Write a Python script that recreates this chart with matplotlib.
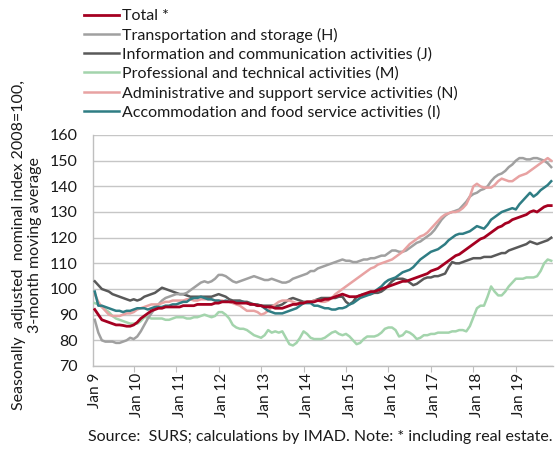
import matplotlib
matplotlib.use("Agg")
import matplotlib.pyplot as plt
import numpy as np

plt.rcParams['font.family'] = ['Lato', 'DejaVu Sans']

years = list(range(2009, 2020))
tick_labels = ["Jan " + str(y % 100) for y in years]

total = [
    92, 90, 88, 87.5, 87, 86.5, 86, 86, 85.8, 85.5, 85.5, 86,
    87, 88.5, 89.5, 90.5, 91.5, 92, 92.5, 92.5, 93, 93, 93, 93,
    93, 93.5, 93.5, 93.5, 93.5, 94, 94, 94, 94, 94, 94.5, 94.5,
    95, 95, 95, 95, 94.5, 94.5, 94.5, 94.5, 94, 94, 93.5, 93.5,
    93, 93, 93, 92.5, 92.5, 92.5, 93, 93.5, 94, 94, 94.5, 94.5,
    95, 95, 95, 95.5, 95.5, 96, 96, 96.5, 97, 97.5, 98, 97.5,
    97, 97, 97, 97.5, 98, 98.5, 99, 99, 99.5, 100, 100.5, 101,
    101.5, 102, 102.5, 103, 103, 103.5, 104, 104.5, 105, 105.5, 106, 107,
    107.5, 108, 109, 110, 111, 112, 113, 113.5, 114.5, 115.5, 116.5, 117.5,
    118.5, 119.5, 120, 121, 122, 123, 124, 124.5, 125.5, 126, 127, 127.5,
    128, 128.5, 129, 130, 130.5, 130, 131, 132, 132.5, 132.5,
]

transport = [
    88, 83, 80, 79.5, 79.5, 79.5, 79, 79, 79.5, 80, 81, 80.5,
    81.5, 83.5, 86, 88.5, 90.5, 92.5, 94, 95.5, 96.5, 97, 97.5, 98,
    98, 98, 98.5, 99.5, 100.5, 101.5, 102.5, 103, 102.5, 103, 104, 105.5,
    105.5, 105, 104, 103, 102.5, 103, 103.5, 104, 104.5, 105, 104.5, 104,
    103.5, 103.5, 104, 103.5, 103, 102.5, 102.5, 103, 104, 104.5, 105, 105.5,
    106, 107, 107, 108, 108.5, 109, 109.5, 110, 110.5, 111, 111.5, 111,
    111, 110.5, 110.5, 111, 111.5, 111.5, 112, 112, 112.5, 113, 113, 114,
    115, 115, 114.5, 114.5, 115, 116, 117, 118, 118.5, 119.5, 120.5, 121.5,
    123, 125, 127, 128.5, 129.5, 130, 130.5, 131, 132.5, 134, 136, 137,
    137.5, 138.5, 139, 140, 142, 143.5, 144.5, 145, 146, 147.5, 148.5, 150,
    151, 151, 150.5, 150.5, 151, 151, 150.5, 150, 149, 147.5,
]

info = [
    103, 101.5, 100, 99.5, 99, 98, 97.5, 97, 96.5, 96, 95.5, 96,
    95.5, 96, 97, 97.5, 98, 98.5, 99.5, 100.5, 100, 99.5, 99, 98.5,
    98, 98, 97.5, 97, 97, 97, 97, 97, 97, 97, 97.5, 98,
    97.5, 97, 96, 95.5, 95.5, 95.5, 95, 95, 94.5, 94, 94, 93.5,
    93.5, 93.5, 93.5, 93.5, 93.5, 94, 95, 96, 96.5, 96, 95.5, 95,
    95, 95, 95.5, 96, 96.5, 96.5, 96.5, 96.5, 96.5, 97, 97, 95,
    94, 95, 97, 97.5, 98, 98, 98, 98.5, 98.5, 99, 100, 101.5,
    103, 104, 104, 104, 103.5, 102.5, 101.5, 102, 103, 104, 104.5, 104.5,
    105, 105, 105.5, 106, 108.5, 110.5, 110, 110, 110.5, 111, 111.5, 112,
    112, 112, 112.5, 112.5, 112.5, 113, 113.5, 114, 114, 115, 115.5, 116,
    116.5, 117, 117.5, 118.5, 118, 117.5, 118, 118.5, 119, 120,
]

prof = [
    94.5, 94, 93, 92, 91, 89.5, 88.5, 88, 87.5, 87, 86.5, 86.5,
    86.5, 87.5, 89, 89, 88.5, 88.5, 88.5, 88.5, 88, 88, 88.5, 89,
    89, 89, 88.5, 88.5, 89, 89, 89.5, 90, 89.5, 89, 89.5, 91,
    91, 90, 88.5, 86, 85, 84.5, 84.5, 84, 83, 82, 81.5, 81,
    82, 84, 83, 83.5, 83, 83.5, 81, 78.5, 78, 79, 81, 83.5,
    82.5, 81, 80.5, 80.5, 80.5, 81, 82, 83, 83.5, 82.5, 82, 82.5,
    81.5, 80, 78.5, 79, 80.5, 81.5, 81.5, 81.5, 82, 83, 84.5, 85,
    85, 84, 81.5, 82, 83.5, 83, 82, 80.5, 81, 82, 82, 82.5,
    82.5, 83, 83, 83, 83, 83.5, 83.5, 84, 84, 83.5, 85.5, 89,
    92.5, 93.5, 93.5, 97, 101, 99, 97.5, 97.5, 99, 101, 102.5, 104,
    104, 104, 104.5, 104.5, 104.5, 105, 107, 110, 111.5, 111,
]

admin = [
    98, 95, 93, 91.5, 90, 89.5, 89.5, 89.5, 90, 90.5, 90.5, 91,
    92, 92.5, 93, 93.5, 94, 94, 94, 94.5, 95, 95, 95.5, 95.5,
    95.5, 95.5, 96, 96, 95.5, 95.5, 96, 96, 96, 96, 95.5, 95.5,
    95.5, 95, 95, 94.5, 94, 93.5, 92.5, 91.5, 91.5, 91.5, 91, 90,
    90.5, 91.5, 93, 94, 95, 95.5, 95.5, 95.5, 95, 94.5, 94.5, 94.5,
    95, 95, 95.5, 95.5, 95, 95, 95.5, 96.5, 98, 99, 100, 101,
    102, 103, 104, 105, 106, 107, 108, 108.5, 109.5, 110, 110.5, 111,
    111.5, 112.5, 113.5, 114.5, 116, 117.5, 118.5, 119.5, 120.5, 121, 122, 123.5,
    125, 126.5, 128, 129, 129.5, 130, 130, 130.5, 131.5, 133, 136, 140,
    141, 140, 139.5, 139.5, 139.5, 140.5, 142, 143, 142.5, 142, 142, 143,
    144, 144.5, 145, 146, 147, 148, 149, 150, 151, 150,
]

accom = [
    99, 93.5, 93.5, 93, 92.5, 92, 91.5, 91.5, 91, 91.5, 91.5, 92,
    92.5, 92.5, 92.5, 92, 92.5, 93, 93, 93, 93.5, 93.5, 94, 94,
    94.5, 95, 95, 96, 96.5, 96.5, 97, 96.5, 96, 96, 95.5, 95.5,
    95, 95.5, 95, 95, 95, 95, 95, 94.5, 94, 94, 93.5, 93.5,
    92.5, 91.5, 91, 90.5, 90.5, 90.5, 91, 91.5, 92, 92.5, 93.5, 94.5,
    94.5, 94.5, 93.5, 93.5, 93, 92.5, 92.5, 92, 92, 92.5, 92.5, 93,
    94, 94.5, 95.5, 96.5, 97, 97.5, 98, 99, 100, 101, 102.5, 103.5,
    104, 104.5, 105.5, 106.5, 107, 107.5, 108.5, 110, 111.5, 112.5, 113.5, 114.5,
    115, 115.5, 116.5, 117.5, 119, 120, 121, 121.5, 121.5, 122, 122.5, 123.5,
    124.5, 124, 123.5, 125, 127, 128, 129, 130, 130.5, 131, 131.5, 131,
    133, 134.5, 136, 137.5, 136, 137, 138.5, 139.5, 140.5, 142,
]

series = [
    ("Total *", total, "#a50021", 2.0),
    ("Transportation and storage (H)", transport, "#a0a0a0", 1.8),
    ("Information and communication activities (J)", info, "#595959", 1.8),
    ("Professional and technical activities (M)", prof, "#a3d4ac", 1.8),
    ("Administrative and support service activities (N)", admin, "#e8a2a2", 1.8),
    ("Accommodation and food service activities (I)", accom, "#2f7d84", 1.8),
]

W, H = 555, 449
fig = plt.figure(figsize=(W / 100, H / 100), dpi=100)
ax = fig.add_axes([93 / W, 1 - 366 / H, (553 - 93) / W, (366 - 135) / H])

n = len(total)
x = np.arange(n)
order = [3, 2, 1, 4, 5, 0]
handles = {}
for k in order:
    label, vals, col, lw = series[k]
    h, = ax.plot(x[:len(vals)], vals, color=col, lw=lw, label=label,
                 solid_joinstyle='round', zorder=3)
    handles[k] = h
handles[0].set_zorder(5)

ax.set_xlim(-0.5, n - 0.5)
ax.set_ylim(70, 160)
ax.set_yticks(np.arange(70, 161, 10))
ax.yaxis.grid(True, color="#c6c6c6", lw=1.0)
ax.set_axisbelow(True)

major = [12 * i for i in range(len(years))]
ax.set_xticks(major)
ax.set_xticklabels(tick_labels, rotation=90)
ax.set_xticks([m - 1 for m in major[1:]], minor=True)
ax.tick_params(axis='x', which='major', length=0, pad=5, labelsize=11, colors='#1a1a1a')
ax.tick_params(axis='x', which='minor', length=4, width=0.8, color='#bfbfbf')
ax.tick_params(axis='y', length=0, pad=11, labelsize=11.5, colors='#1a1a1a')

for s in ['top', 'right']:
    ax.spines[s].set_visible(False)
for s in ['left', 'bottom']:
    ax.spines[s].set_color('#bfbfbf')
    ax.spines[s].set_linewidth(1.0)

fig.text(27 / W, 1 - 245 / H,
         "Seasonally  adjusted  nominal index 2008=100,\n3-month moving average",
         rotation=90, ha='center', va='center', fontsize=11.5,
         multialignment='center', color='#1a1a1a', linespacing=1.25)

leg_handles = [handles[k] for k in range(6)]
leg = fig.legend(leg_handles, [s[0] for s in series], loc='upper left',
                 bbox_to_anchor=(84 / W, 1 - 9 / H), frameon=False,
                 fontsize=11.5, handlelength=2.2, handletextpad=0.2,
                 labelspacing=0.29, borderaxespad=0, borderpad=0)
for t in leg.get_texts():
    t.set_color('#1a1a1a')

fig.text(552 / W, 1 - 437 / H,
         "Source:  SURS; calculations by IMAD. Note: * including real estate.",
         ha='right', va='center', fontsize=11.5, color='#1a1a1a')

fig.savefig("out.png", dpi=100, facecolor='white')
